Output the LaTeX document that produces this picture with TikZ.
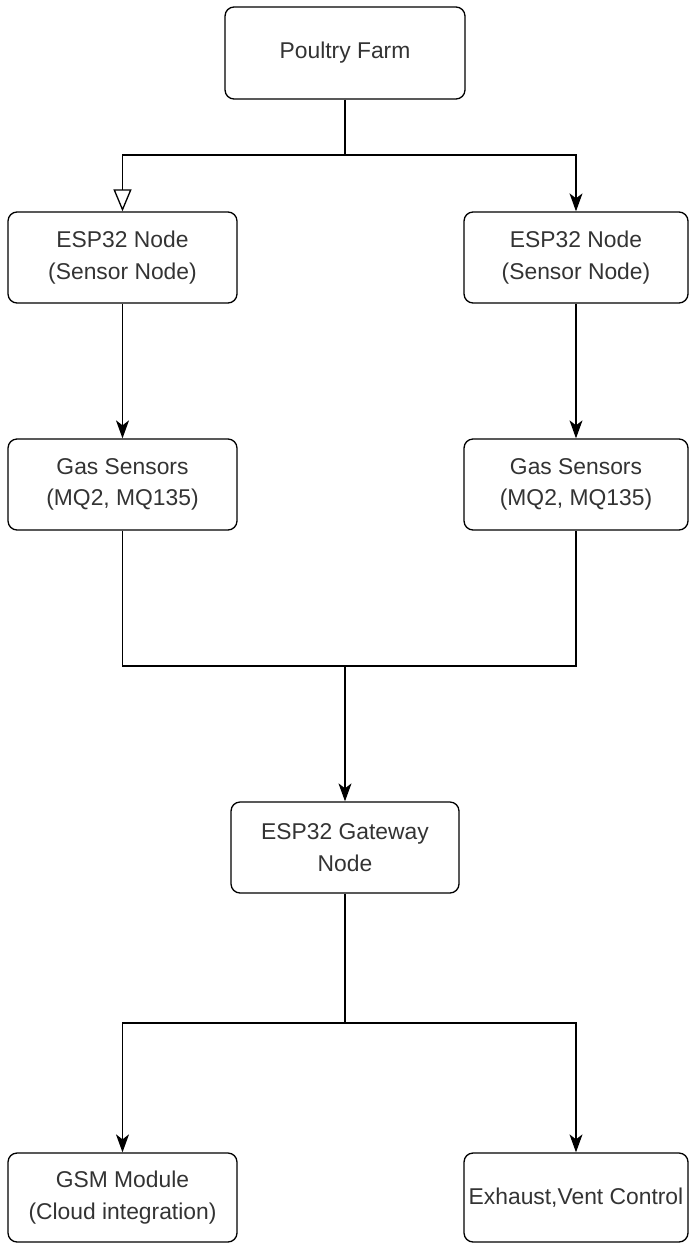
\documentclass[tikz,border=0pt]{standalone}
\usepackage{fontspec}
\setmainfont{Liberation Sans}
\usetikzlibrary{arrows.meta}

\begin{document}
\begin{tikzpicture}[x=0.02cm, y=-0.02cm,
    box/.style={draw, rounded corners=0.18cm, line width=0.75pt, align=center,
      minimum width=4.58cm, minimum height=1.82cm, inner sep=0pt,
      text=black!80, font=\fontsize{13}{18}\selectfont},
    link/.style={line width=0.75pt},
    arr/.style={link, -{Stealth[length=0.36cm, width=0.26cm, inset=0.1cm]}}]
  \useasboundingbox (0,0) rectangle (689,1244);

  % boxes
  \node[box, minimum width=4.8cm, minimum height=1.84cm] (farm) at (345,53) {Poultry Farm};
  \node[box] (espL) at (122.5,257.5) {ESP32 Node\\(Sensor Node)};
  \node[box, minimum width=4.48cm] (espR) at (576,257.5) {ESP32 Node\\(Sensor Node)};
  \node[box] (gasL) at (122.5,484.5) {Gas Sensors\\(MQ2, MQ135)};
  \node[box, minimum width=4.48cm] (gasR) at (576,484.5) {Gas Sensors\\(MQ2, MQ135)};
  \node[box, minimum width=4.56cm] (gate) at (345,847.5) {ESP32 Gateway\\Node};
  \node[box, minimum height=1.78cm] (gsm) at (122.5,1197.5) {GSM Module\\(Cloud integration)};
  \node[box, minimum width=4.48cm, minimum height=1.78cm] (vent) at (576,1197.5) {Exhaust,Vent Control};

  \coordinate (fork) at (345,155);
  \coordinate (merge) at (345,666);
  \coordinate (split) at (345,1023);

  % connectors
  \draw[link] (farm.south) -- (fork);
  \draw[link, -{Triangle[open, length=0.44cm, width=0.36cm]}] (fork) -| (espL.north);
  \draw[arr] (fork) -| (espR.north);
  \draw[arr] (espL) -- (gasL);
  \draw[arr] (espR) -- (gasR);
  \draw[link] (gasL.south) |- (merge) -| (gasR.south);
  \draw[arr] (merge) -- (gate);
  \draw[link] (gate) -- (split);
  \draw[arr] (split) -| (gsm.north);
  \draw[arr] (split) -| (vent.north);
\end{tikzpicture}
\end{document}
